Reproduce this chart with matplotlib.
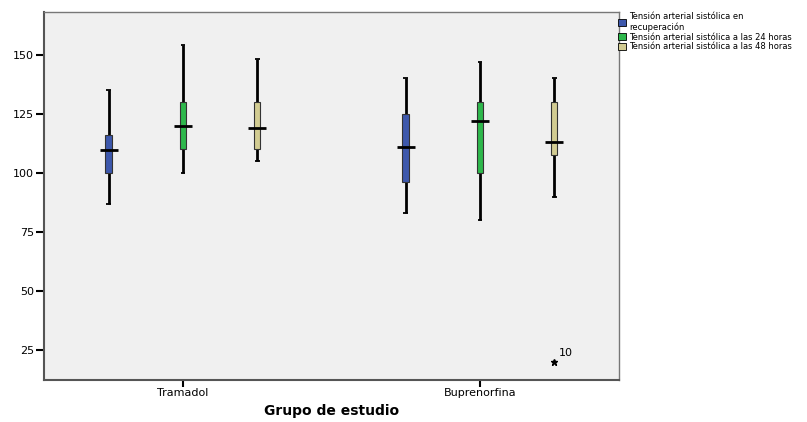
import matplotlib
matplotlib.use("Agg")
import matplotlib.pyplot as plt
from matplotlib.patches import Patch

# box statistics
grupos = ["Tramadol", "Buprenorfina"]
series = ["Tensión arterial sistólica en\nrecuperación",
          "Tensión arterial sistólica a las 24 horas",
          "Tensión arterial sistólica a las 48 horas"]
colores = ["#3d58ac", "#2eb84c", "#d2cc92"]

whis_lo = [[87, 100, 105], [83, 80, 90]]
q1 = [[100, 110, 110], [96, 100, 107.5]]
mediana = [[109.5, 120, 119], [111, 122, 113]]
q3 = [[116, 130, 130], [125, 130, 130]]
whis_hi = [[135, 154, 148], [140, 147, 140]]

# outlier: (grupo, serie, valor, etiqueta)
atipicos = [(1, 2, 20, "10")]

offsets = [-0.25, 0, 0.25]
ancho = 0.022

fig = plt.figure(figsize=(8.07, 4.22), dpi=100)
ax = fig.add_axes([0.0545, 0.0995, 0.7125, 0.872])
ax.set_facecolor("#f0f0f0")

for g in range(len(grupos)):
    for s in range(len(series)):
        x = g + offsets[s]
        ax.vlines(x, whis_lo[g][s], whis_hi[g][s], color="black", lw=2, zorder=2)
        ax.hlines([whis_lo[g][s], whis_hi[g][s]], x - 0.008, x + 0.008,
                  color="black", lw=1.3, zorder=2)
        ax.bar(x, q3[g][s] - q1[g][s], bottom=q1[g][s], width=ancho,
               color=colores[s], edgecolor="#333333", lw=0.8, zorder=3)
        ax.hlines(mediana[g][s], x - 0.03, x + 0.03, color="black", lw=2, zorder=4)

for g, s, v, lab in atipicos:
    x = g + offsets[s]
    ax.plot(x, v, marker="*", color="black", ms=5, zorder=4)
    ax.text(x + 0.017, v + 2, lab, fontsize=8, ha="left", va="bottom")

ax.set_xlim(-0.468, 1.468)
ax.set_ylim(12.5, 168)
ax.set_yticks([25, 50, 75, 100, 125, 150])
ax.set_xticks([0, 1])
ax.set_xticklabels(grupos)
ax.tick_params(axis="y", direction="out", length=6, width=1.5, labelsize=8, pad=1)
ax.tick_params(axis="x", direction="out", length=5, width=1.5, labelsize=8, pad=1)
for lado in ["left", "bottom"]:
    ax.spines[lado].set_linewidth(1.5)
    ax.spines[lado].set_color("#555555")
for lado in ["top", "right"]:
    ax.spines[lado].set_linewidth(1)
    ax.spines[lado].set_color("#777777")

ax.set_xlabel("Grupo de estudio", fontsize=10, fontweight="bold", labelpad=4)

handles = [Patch(facecolor=c, edgecolor="black", lw=0.6) for c in colores]
fig.legend(handles, series, loc="upper left", bbox_to_anchor=(0.766, 0.972),
           frameon=False, fontsize=6, handlelength=0.9, handleheight=0.9,
           handletextpad=0.4, labelspacing=0.1, borderaxespad=0, borderpad=0)

fig.savefig("out.png", dpi=100, facecolor="white")
